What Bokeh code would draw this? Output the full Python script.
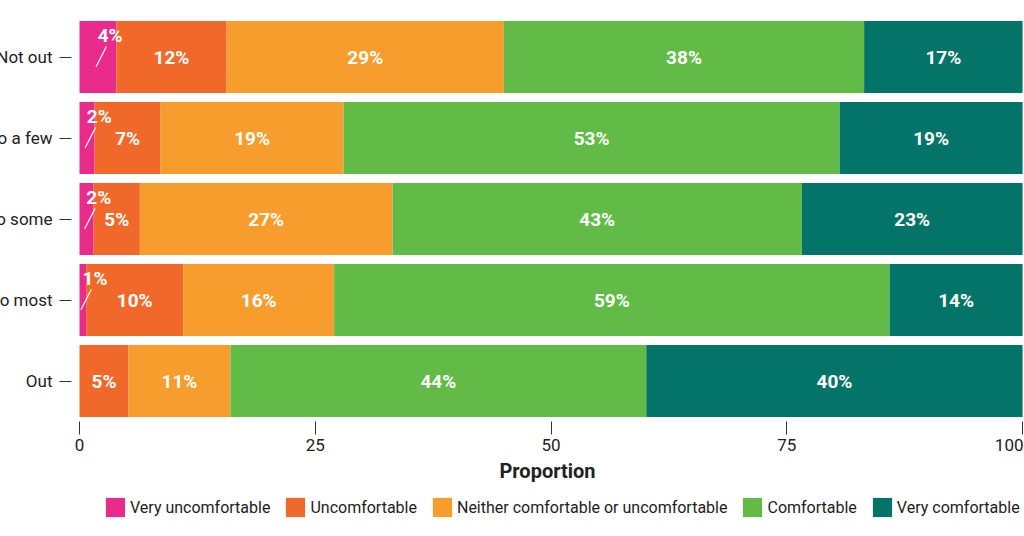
from bokeh.plotting import figure
from bokeh.models import (ColumnDataSource, Range1d, FactorRange, Legend, LegendItem,
                          FixedTicker)
from bokeh.layouts import column
from bokeh.transform import dodge
from bokeh.core.properties import value
from bokeh.embed import file_html
from bokeh.resources import INLINE

groups = ["Not out", "Out to a few", "Out to some", "Out to most", "Out"]
levels = ["Very uncomfortable", "Uncomfortable",
          "Neither comfortable or uncomfortable", "Comfortable", "Very comfortable"]
very_uncomfortable = [3.9, 1.6, 1.5, 0.7, 0.0]
uncomfortable = [11.7, 7.0, 4.9, 10.3, 5.2]
neither = [29.4, 19.4, 26.8, 16.0, 10.8]
comfortable = [38.2, 52.6, 43.4, 58.9, 44.1]
very_comfortable = [16.8, 19.4, 23.4, 14.1, 39.9]
colors = ["#E92C8C", "#F1692A", "#F79D2D", "#61BB46", "#057468"]
x_ticks = [0, 25, 50, 75, 100]

series = [very_uncomfortable, uncomfortable, neither, comfortable, very_comfortable]
keys = ["s0", "s1", "s2", "s3", "s4"]

FONT = "Roboto"

data = {"group": groups}
for k, s in zip(keys, series):
    data[k] = s
src = ColumnDataSource(data)

p = figure(y_range=FactorRange(factors=groups[::-1]),
           x_range=Range1d(-0.85, 100.1),
           width=1082, height=490,
           min_border_left=130, min_border_right=0, min_border_top=16,
           min_border_bottom=69,
           output_backend="svg", toolbar_location=None)

renderers = p.hbar_stack(keys, y="group", height=72 / 81, color=colors, source=src,
                         line_color=None)

# labels
cx, cy, ct = [], [], []
sx, sy, st, lx0, lx1 = [], [], [], [], []
for i, g in enumerate(groups):
    left = 0.0
    for s in series:
        v = s[i]
        if v > 0:
            lab = f"{int(v + 0.5)}%"
            c = left + v / 2
            if v < 4.5:
                sx.append(c + 1.3); sy.append(g); st.append(lab)
                lx0.append(c - 0.2); lx1.append(c + 0.9)
            else:
                cx.append(c); cy.append(g); ct.append(lab)
        left += v

csrc = ColumnDataSource(dict(x=cx, y=cy, t=ct))
ssrc = ColumnDataSource(dict(x=sx, y=sy, t=st, x0=lx0, x1=lx1))

p.text(x="x", y="y", text="t", source=csrc, text_color="white",
       text_font=value(FONT), text_font_style="bold", text_font_size="19px",
       text_align="center", text_baseline="middle")
p.text(x="x", y=dodge("y", 0.27, range=p.y_range), text="t", source=ssrc,
       text_color="white", text_font=value(FONT), text_font_style="bold",
       text_font_size="19px", text_align="center", text_baseline="middle")
p.segment(x0="x0", y0=dodge("y", -0.12, range=p.y_range),
          x1="x1", y1=dodge("y", 0.13, range=p.y_range), source=ssrc,
          line_color="white", line_width=1.2)

p.grid.visible = False
p.outline_line_color = None
p.background_fill_color = "white"

ax = p.xaxis[0]
ax.ticker = FixedTicker(ticks=x_ticks)
ax.axis_line_color = None
ax.minor_tick_line_color = None
ax.major_tick_line_color = "#333333"
ax.major_tick_in = 0
ax.major_tick_out = 13
ax.major_label_standoff = 4
ax.major_label_text_font = FONT
ax.major_label_text_font_size = "17px"
ax.major_label_text_color = "#222222"
ax.axis_label = "Proportion"
ax.axis_label_text_font = FONT
ax.axis_label_text_font_style = "bold"
ax.axis_label_text_font_size = "20px"
ax.axis_label_text_color = "#222222"
ax.axis_label_standoff = 5

ay = p.yaxis[0]
ay.axis_line_color = None
ay.major_tick_line_color = "#333333"
ay.major_tick_in = 0
ay.major_tick_out = 12
ay.major_label_standoff = 7
ay.major_label_text_font = FONT
ay.major_label_text_font_size = "17px"
ay.major_label_text_color = "#222222"

# legend strip (swatch renderers sit outside the strip's visible range)
p2 = figure(width=1082, height=38, x_range=Range1d(0, 1), y_range=Range1d(0, 1),
            x_axis_location=None, y_axis_location=None,
            min_border=0, min_border_left=0, min_border_right=0,
            min_border_top=0, min_border_bottom=0,
            output_backend="svg", toolbar_location=None)
p2.grid.visible = False
p2.outline_line_color = None
swatches = [p2.hbar(y=[-10], left=[0], right=[1], height=1, color=c, line_color=None)
            for c in colors]

legend = Legend(items=[LegendItem(label=value(l), renderers=[r]) for l, r in zip(levels, swatches)],
                orientation="horizontal", location=(32, 9),
                label_text_font=FONT, label_text_font_size="16px",
                label_text_color="#222222", label_height=24,
                glyph_width=24, glyph_height=24, label_standoff=3, spacing=13,
                border_line_color=None, background_fill_alpha=0,
                padding=4, margin=0)
p2.add_layout(legend, "center")

layout = column(p, p2, spacing=0, styles={"margin-left": "-59px"})

open("out.html", "w").write(file_html(layout, INLINE))
